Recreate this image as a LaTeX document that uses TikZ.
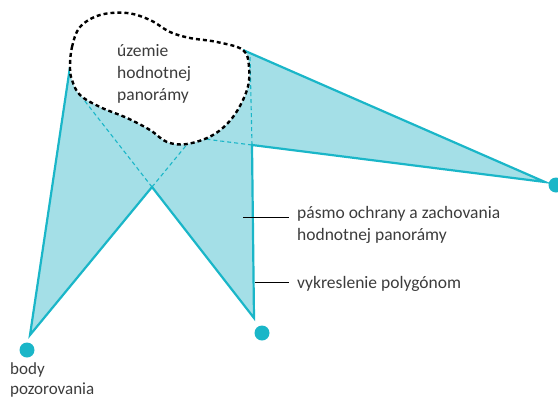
\documentclass[tikz,border=0pt]{standalone}
\usepackage{fontspec}
\setmainfont{Carlito}
\usetikzlibrary{positioning}
\definecolor{tyrkys}{RGB}{26,182,200}
\definecolor{tyrkyssvetla}{RGB}{164,223,231}
\definecolor{sedy}{RGB}{60,60,60}

\begin{document}
\begin{tikzpicture}[x=1pt, y=-1pt,
  zone/.style={fill=tyrkyssvetla, draw=none},
  edge/.style={draw=tyrkys, line width=2.2pt, line join=miter},
  hidden/.style={draw=tyrkys, line width=1.1pt, dash pattern=on 4pt off 3pt},
  blob/.style={draw=black, line width=2.4pt, dash pattern=on 4pt off 3pt, fill=white},
  dot/.style={circle, fill=tyrkys, inner sep=0pt, minimum size=15pt},
  lbl/.style={font=\fontsize{17.5}{22}\selectfont, text=sedy, align=left, inner sep=0pt},
  lead/.style={draw=black, line width=0.8pt}
]
\useasboundingbox (0,0) rectangle (558,400);

% observation points and polygon corners
\node[dot] (P1) at (27,350) {};
\node[dot] (P2) at (262,333) {};
\node[dot] (P3) at (556,185) {};
\coordinate (T1) at (30,335);
\coordinate (T2) at (254,318);
\coordinate (T3) at (545,182);
\coordinate (N) at (152,187);
\coordinate (K) at (252,145);
\coordinate (A1) at (70,67);
\coordinate (B1) at (189,142);
\coordinate (A2) at (84,100);
\coordinate (B2) at (250,55);
\coordinate (A3) at (243,50);
\coordinate (B3) at (197,138);

% visibility polygons
\fill[zone] (T1) -- (A1) -- (120,70) -- (B1) -- cycle;
\fill[zone] (T2) -- (A2) -- (150,80) -- (B2) -- cycle;
\fill[zone] (T3) -- (A3) -- (220,90) -- (B3) -- cycle;

% hidden edges
\draw[hidden] (N) -- (B1);
\draw[hidden] (N) -- (A2);
\draw[hidden] (K) -- (B2);
\draw[hidden] (K) -- (B3);

% outline
\draw[edge] (A1) -- (T1) -- (N) -- (T2) -- (K) -- (T3) -- (A3);

% panorama area
\draw[blob] plot[smooth cycle, tension=0.6] coordinates {
  (70,67) (72,47) (80,27) (100,15) (127,13) (150,20) (170,32) (190,38)
  (217,42) (243,50) (249,67) (247,90) (233,117) (213,135) (187,144)
  (167,142) (150,130) (127,118) (100,107) (80,95) (72,80)};

% labels
\node[lbl, anchor=north west] (uzemie) at (117,44) {územie\\hodnotnej\\panorámy};
\node[lbl, anchor=north west] (pasmo) at (297,206) {pásmo ochrany a zachovania\\hodnotnej panorámy};
\node[lbl, anchor=north west] (vykres) at (297,276) {vykreslenie polygónom};
\node[lbl, anchor=north west, font=\fontsize{17}{20}\selectfont] (body) at (10,362) {body\\pozorovania};

% leaders
\coordinate (L1) at (243,217);
\coordinate (L1e) at (289,217);
\coordinate (L2) at (255,282);
\coordinate (L2e) at (289,282);
\draw[lead] (L1) -- (L1e);
\draw[lead] (L2) -- (L2e);
\end{tikzpicture}
\end{document}
